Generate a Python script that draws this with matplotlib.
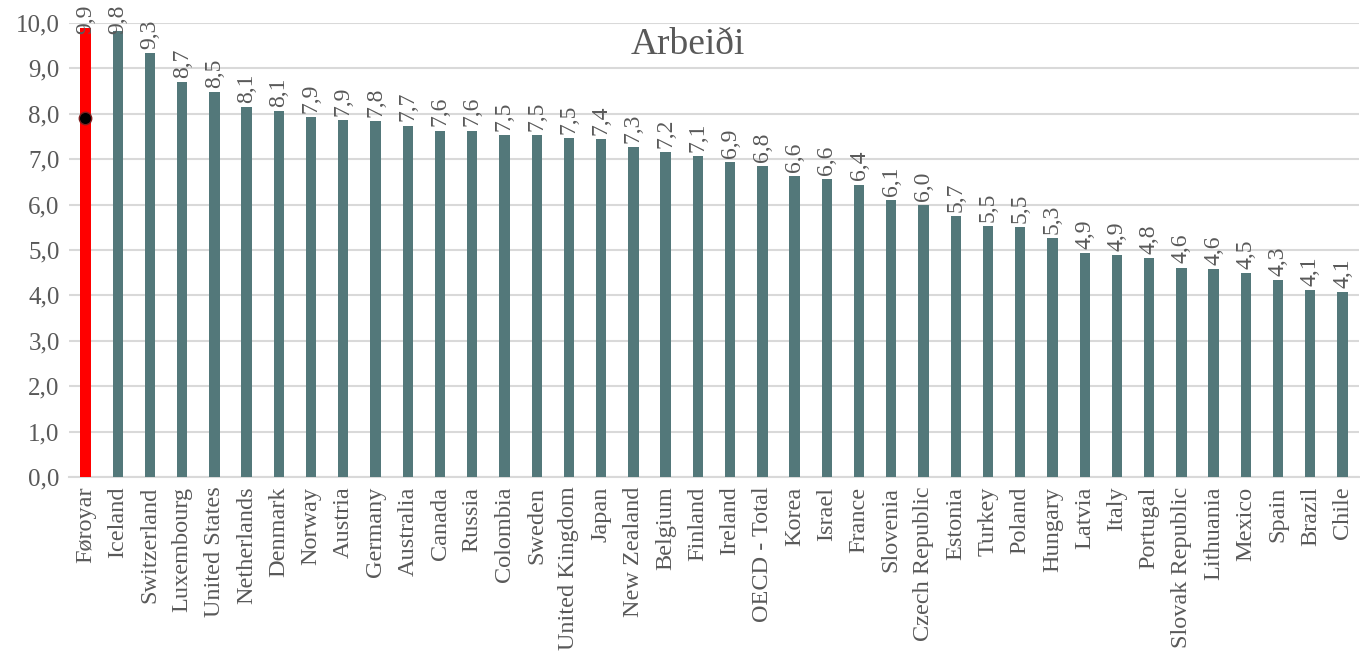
import numpy as np
import matplotlib
matplotlib.use("Agg")
import matplotlib.pyplot as plt

plt.rcParams['font.family'] = ['Liberation Serif', 'DejaVu Serif']

countries = ["Føroyar", "Iceland", "Switzerland", "Luxembourg", "United States", "Netherlands",
             "Denmark", "Norway", "Austria", "Germany", "Australia", "Canada", "Russia",
             "Colombia", "Sweden", "United Kingdom", "Japan", "New Zealand", "Belgium",
             "Finland", "Ireland", "OECD - Total", "Korea", "Israel", "France", "Slovenia",
             "Czech Republic", "Estonia", "Turkey", "Poland", "Hungary", "Latvia", "Italy",
             "Portugal", "Slovak Republic", "Lithuania", "Mexico", "Spain", "Brazil", "Chile"]
values = [9.89, 9.83, 9.34, 8.70, 8.48, 8.14, 8.06, 7.93, 7.86, 7.84, 7.74, 7.63, 7.63,
          7.53, 7.53, 7.47, 7.44, 7.27, 7.16, 7.07, 6.94, 6.85, 6.63, 6.56, 6.44, 6.10,
          5.98, 5.74, 5.53, 5.51, 5.27, 4.93, 4.88, 4.82, 4.61, 4.58, 4.49, 4.34, 4.12, 4.07]
dot_value = 7.9  # extra marker on Føroyar

grey = '#595959'
teal = '#53787A'

fig = plt.figure(figsize=(13.6, 6.56), dpi=100)
ax = fig.add_axes([0.051, 0.273, 0.948, 0.692])

x = np.arange(len(countries))
colors = ['#FF0000'] + [teal] * (len(countries) - 1)
ax.bar(x, values, width=0.32, color=colors, zorder=3)
ax.scatter([0], [dot_value], s=80, color='black', edgecolors='#7F1F1F', linewidths=1, zorder=4)

for xi, v in zip(x, values):
    lbl = "{:.1f}".format(v).replace('.', ',')
    if v > 9.5:
        # no room above: pin to top edge like excel does
        ax.annotate(lbl, (xi, 1.0), xycoords=('data', 'figure fraction'), xytext=(0, -3),
                    textcoords='offset points', rotation=90, ha='center', va='top',
                    fontsize=17, color=grey, annotation_clip=False, zorder=5)
    else:
        ax.annotate(lbl, (xi, v), xytext=(0, 3),
                    textcoords='offset points', rotation=90, ha='center', va='bottom',
                    fontsize=17, color=grey, annotation_clip=False)

ax.set_xlim(-0.5, len(countries) - 0.5)
ax.set_ylim(0, 10)
ax.set_yticks(np.arange(0, 11, 1))
ax.set_yticklabels(["{:.1f}".format(t).replace('.', ',') for t in np.arange(0, 11, 1)])
ax.set_xticks(x)
ax.set_xticklabels(countries, rotation=90)
ax.tick_params(axis='y', length=0, pad=7, labelsize=18, labelcolor=grey)
ax.tick_params(axis='x', length=0, pad=7, labelsize=17.5, labelcolor=grey)
ax.grid(axis='y', color='#D9D9D9', linewidth=1.5, zorder=0)
for s in ['top', 'right', 'left']:
    ax.spines[s].set_visible(False)
ax.spines['bottom'].set_color('#D9D9D9')
ax.spines['bottom'].set_linewidth(1.5)

fig.text(688 / 1360, 1 - 45 / 656, "Arbeiði", ha='center', va='center', fontsize=27, color=grey)

fig.savefig("out.png", dpi=100)
